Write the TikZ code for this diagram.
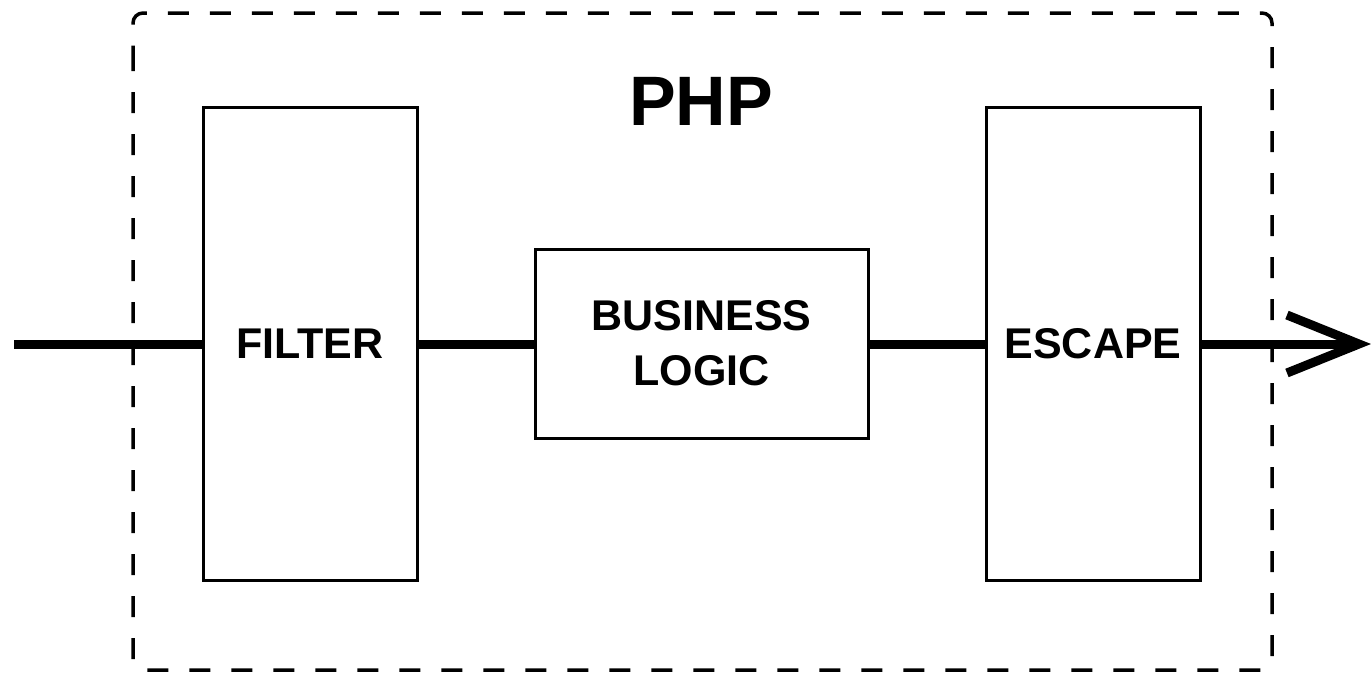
\documentclass[tikz,border=0pt]{standalone}
\usepackage{fontspec}
\setmainfont{Liberation Sans}
\usetikzlibrary{arrows.meta}
\begin{document}
\begin{tikzpicture}[x=1pt,y=-1pt,
  blockbox/.style={draw, line width=3pt, inner sep=0pt, font=\bfseries\fontsize{43}{55}\selectfont, align=center},
  flow/.style={line width=9pt},
  frame/.style={line width=3.5pt, dash pattern=on 21pt off 21pt, rounded corners=10pt}]
\useasboundingbox (0,0) rectangle (1371,675);
\draw[frame] (133,40) -- (133,670) -- (1272,670) -- (1272,13) -- (133,13) -- cycle;
\node[font=\bfseries\fontsize{70}{80}\selectfont] (php) at (701,101) {PHP};
\node[blockbox, minimum width=214pt, minimum height=473pt] (filter) at (310,343.5) {FILTER};
\node[blockbox, minimum width=333pt, minimum height=189pt] (biz) at (701.5,343.5) {BUSINESS\\LOGIC};
\node[blockbox, minimum width=214pt, minimum height=473pt] (esc) at (1093,343.5) {ESCAPE};
\coordinate (in) at (14,344);
\coordinate (out) at (1371,344);
\draw[flow] (in) -- (filter.west |- in);
\draw[flow] (filter.east |- in) -- (biz.west |- in);
\draw[flow] (biz.east |- in) -- (esc.west |- in);
\draw[flow, -{Straight Barb[length=72pt, width=58pt]}] (esc.east |- in) -- (out);
\end{tikzpicture}
\end{document}
